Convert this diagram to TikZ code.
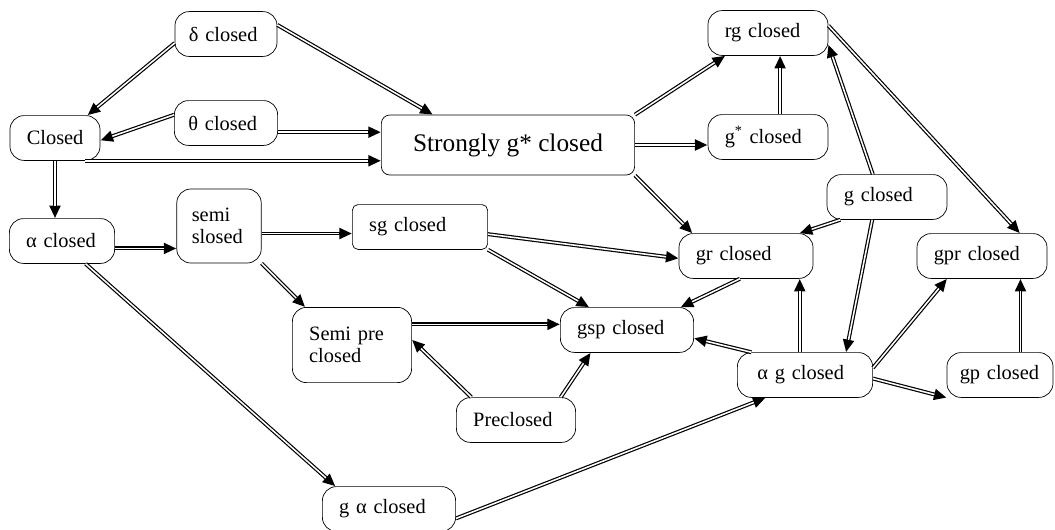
\documentclass[tikz,border=0pt]{standalone}
\usepackage{fontspec}
\setmainfont{Liberation Serif}
\usetikzlibrary{arrows.meta}
\begin{document}
\begin{tikzpicture}[x=0.025cm,y=-0.025cm,
    box/.style={draw,line width=0.5pt,rounded corners=10pt,minimum height=1.12cm,
      inner xsep=0.42cm,inner ysep=2pt,align=left,font=\fontsize{14.5}{16}\selectfont},
    impl/.style={line width=2.8pt,-{Triangle[length=9pt,width=7.5pt]},
      postaction={draw=white,line width=1.1pt,-,shorten >=9pt}}]
    \useasboundingbox (0,0) rectangle (1055,529);
    % nodes
    \node[box,text width=1.85cm,inner xsep=0.35cm] (delta) at (226,34) {δ closed};
    \node[box,text width=1.41cm] (closed) at (55,138) {Closed};
    \node[box,text width=1.88cm,inner xsep=0.35cm] (theta) at (226,123) {θ closed};
    \node[box,minimum width=6.33cm,minimum height=1.5cm,rounded corners=6pt,align=center,
      font=\fontsize{18}{20}\selectfont] (strong) at (508,145) {Strongly g* closed};
    \node[box,text width=2.16cm] (rg) at (768,33) {rg closed};
    \node[box,text width=2.16cm] (gstar) at (768,137) {g\textsuperscript{*} closed};
    \node[box,text width=2.16cm] (gcl) at (887,197) {g closed};
    \node[box,text width=1.79cm] (alpha) at (62,241) {α closed};
    \node[box,text width=1.36cm,minimum height=1.85cm,inner xsep=0.375cm] (semi) at (219,226) {semi\\slosed};
    \node[box,text width=2.54cm,rounded corners=4pt] (sg) at (420,227) {sg closed};
    \node[box,text width=2.14cm,minimum height=1.88cm] (semipre) at (352,345) {Semi pre\\closed};
    \node[box,text width=2.49cm] (gsp) at (627,330) {gsp closed};
    \node[box,text width=2.14cm] (pre) at (516,420) {Preclosed};
    \node[box,text width=2.49cm] (galpha) at (389,509) {g α closed};
    \node[box,text width=2.51cm] (gr) at (746,256) {gr closed};
    \node[box,text width=2.41cm] (gpr) at (982,256) {gpr closed};
    \node[box,inner xsep=0.5cm,text width=2.38cm] (alphag) at (805,375) {α g closed};
    \node[box,text width=2.01cm,inner xsep=0.32cm] (gp) at (1000,375) {gp closed};
    % implications
    \draw[impl] (delta.190) -- (closed.35);
    \draw[impl] (delta.10) -- (strong.158);
    \draw[impl] (theta.171) -- (closed.-3);
    \draw[impl] (theta.-10) -- (theta.-10 -| strong.west);
    \draw[impl] (closed.-37) -- (closed.-37 -| strong.west);
    \draw[impl] (closed.south) -- (closed.south |- alpha.north);
    \draw[impl] (alpha.-8) -- (alpha.-8 -| semi.west);
    \draw[impl] (alpha.-44) -- (galpha.157);
    \draw[impl] (semi.-10) -- (semi.-10 -| sg.west);
    \draw[impl] (semi.south east) -- (semipre.141);
    \draw[impl] (sg.-6) -- (gr.182);
    \draw[impl] (sg.south east) -- (gsp.149);
    \draw[impl] (semipre.19) -- (semipre.19 -| gsp.west);
    \draw[impl] (pre.153) -- (semipre.5);
    \draw[impl] (pre.27) -- (gsp.212);
    \draw[impl] (gr.-105) -- (gsp.23);
    \draw[impl] (strong.north east) -- (rg.208);
    \draw[impl] (strong.east) -- (strong.east -| gstar.west);
    \draw[impl] (strong.south east) -- (gr.157);
    \draw[impl] (gstar.62) -- (gstar.62 |- rg.south);
    \draw[impl] (gcl.206) -- (gr.23);
    \draw[impl] (rg.7) -- (gpr.31);
    \draw[impl] (gcl.122) -- (rg.-11);
    \draw[impl] (gcl.237) -- (alphag.29);
    \draw[impl] (alphag.103) -- (alphag.103 |- gr.south);
    \draw[impl] (alphag.157) -- (gsp.-7);
    \draw[impl] (alphag.6) -- (gpr.213);
    \draw[impl] (alphag.-3) -- (gp.203);
    \draw[impl] (gp.48) -- (gp.48 |- gpr.south);
    \draw[impl] (galpha.-8) -- (alphag.210);
  \end{tikzpicture}
\end{document}
